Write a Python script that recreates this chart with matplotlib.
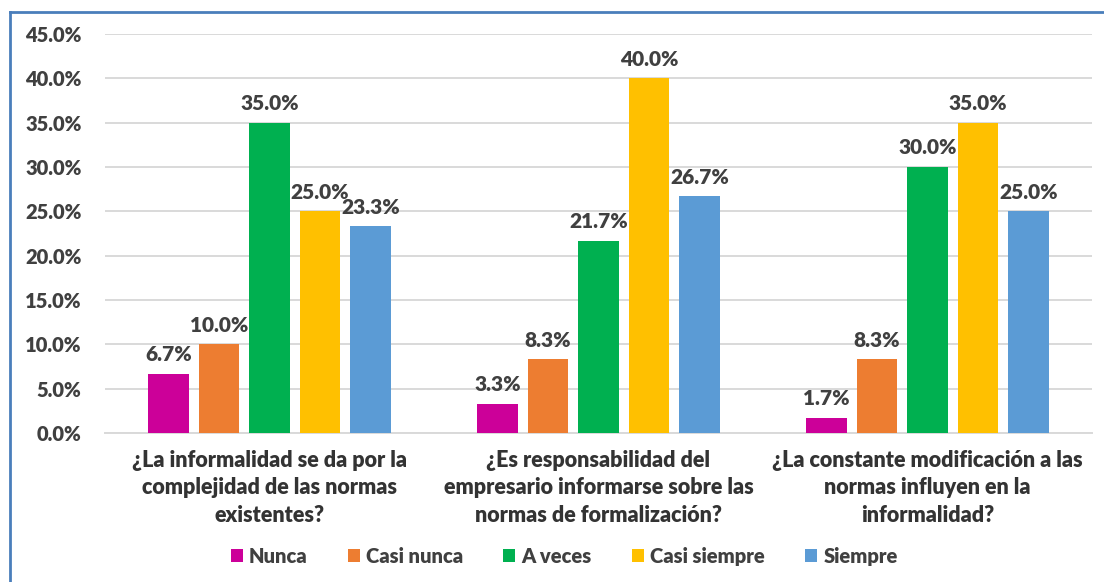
import numpy as np
import matplotlib
matplotlib.use("Agg")
import matplotlib.pyplot as plt
from matplotlib.lines import Line2D

plt.rcParams['font.family'] = ['Lato', 'DejaVu Sans']
plt.rcParams['font.weight'] = 'bold'

# datos
preguntas = [
    "¿La informalidad se da por la\ncomplejidad de las normas\nexistentes?",
    "¿Es responsabilidad del\nempresario informarse sobre las\nnormas de formalización?",
    "¿La constante modificación a las\nnormas influyen en la\ninformalidad?",
]
series = ["Nunca", "Casi nunca", "A veces", "Casi siempre", "Siempre"]
nunca = [6.7, 3.3, 1.7]
casi_nunca = [10.0, 8.3, 8.3]
a_veces = [35.0, 21.7, 30.0]
casi_siempre = [25.0, 40.0, 35.0]
siempre = [23.3, 26.7, 25.0]
valores = [nunca, casi_nunca, a_veces, casi_siempre, siempre]
colores = ["#CC0099", "#ED7D31", "#00B050", "#FFC000", "#5B9BD5"]

texto = "#404040"

fig = plt.figure(figsize=(11.04, 5.82), dpi=100)
ax = fig.add_axes([0.0951, 0.256, 0.894, 0.6856])

x = np.arange(len(preguntas))
paso = 0.1535
ancho = 0.122
for i, (nombre, vals, col) in enumerate(zip(series, valores, colores)):
    pos = x + (i - 2) * paso
    ax.bar(pos, np.array(vals) / 100, width=ancho, color=col, label=nombre, zorder=3)
    for px, v in zip(pos, vals):
        ax.text(px, v / 100 + 0.011, f"{v:.1f}%", ha="center", va="bottom",
                fontsize=15, fontweight="heavy", color=texto)

ax.set_xlim(-0.5, 2.5)
ax.set_ylim(0, 0.45)
ax.set_yticks(np.arange(0, 0.451, 0.05))
ax.set_yticklabels([f"{t*100:.1f}%" for t in np.arange(0, 0.451, 0.05)],
                   fontsize=14.5, fontweight="heavy", color=texto)
ax.set_xticks(x)
ax.set_xticklabels(preguntas, fontsize=15.5, fontweight="heavy", color="#333333",
                   linespacing=1.38)
ax.tick_params(axis="both", length=0)
ax.tick_params(axis="y", pad=17)
ax.tick_params(axis="x", pad=12)
ax.grid(axis="y", color="#D9D9D9", linewidth=1.4, zorder=0)
for s in ["top", "right", "left"]:
    ax.spines[s].set_visible(False)
ax.spines["bottom"].set_color("#D9D9D9")
ax.spines["bottom"].set_linewidth(1.4)

fig.legend(loc="center", bbox_to_anchor=(0.511, 0.044), ncol=5, frameon=False,
           handlelength=0.6, handleheight=0.6, handletextpad=0.3, columnspacing=2.0,
           prop={"size": 14.5, "weight": "heavy"}, labelcolor=texto)

# borde azul
bx0 = 10 / 1104
by1 = 1 - 12 / 582
fig.add_artist(Line2D([bx0, bx0], [0, by1], color="#4A7EBB", linewidth=2, transform=fig.transFigure))
fig.add_artist(Line2D([bx0, 1], [by1, by1], color="#4A7EBB", linewidth=2, transform=fig.transFigure))

fig.savefig("out.png", dpi=100)
